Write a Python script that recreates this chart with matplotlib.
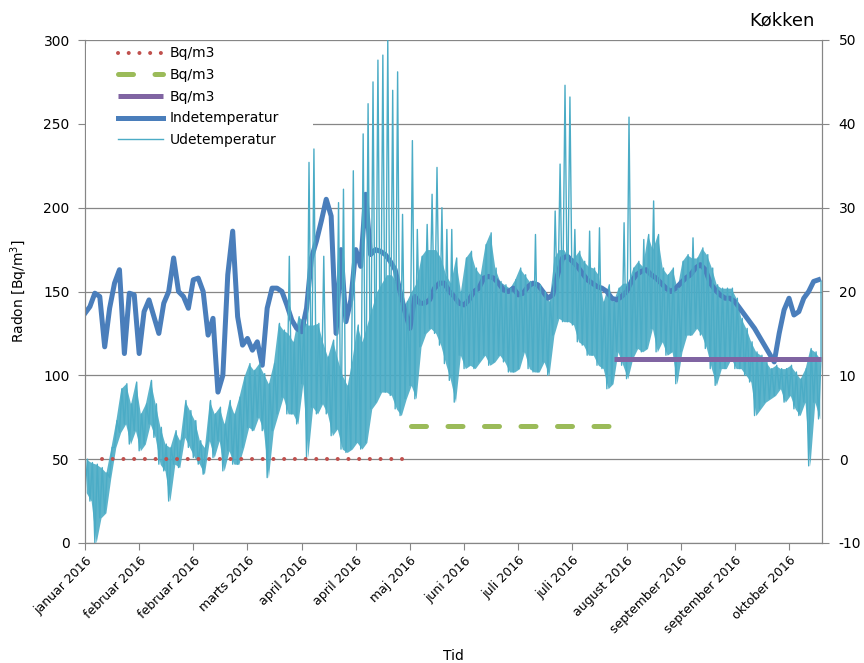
import matplotlib.pyplot as plt
import numpy as np
from matplotlib.patches import Rectangle

plt.rcParams["axes.unicode_minus"] = False

# Udetemperatur, min/maks af det tætte bånd pr. 2-dages interval [°C]
ude_lav = [
    -4.0, -5.0, -10.0, -7.0, -6.4, -2.2, 1.4, 3.2, 4.2, 1.8,
    3.4, 1.0, 1.8, 4.2, 2.6, -0.6, -1.4, -5.0, -0.6, -1.0,
    2.6, 1.4, 0.2, -0.6, -1.8, 2.2, 0.2, 2.2, -1.4, 1.0,
    -0.6, -0.6, 1.4, 3.8, 3.4, 5.0, 3.4, -2.2, 3.4, 5.4,
    7.4, 5.4, 5.4, 4.2, 9.0, 0.2, 6.2, 5.4, 6.6, 5.4,
    2.8, 3.6, 1.2, 0.8, 1.2, 2.0, 1.2, 2.0, 6.0, 6.8,
    8.0, 8.0, 7.6, 6.0, 5.2, 7.2, 8.8, 7.2, 13.4, 15.0,
    15.6, 15.0, 13.6, 11.4, 9.4, 6.8, 12.4, 10.8, 11.2, 10.8,
    11.6, 12.4, 11.2, 11.6, 12.4, 11.6, 10.4, 10.4, 10.8, 12.8,
    10.8, 10.4, 10.4, 11.6, 10.0, 14.8, 16.8, 16.4, 16.4, 16.0,
    14.0, 13.6, 12.4, 12.4, 11.2, 10.8, 8.4, 9.0, 12.8, 11.2,
    9.6, 12.0, 13.2, 12.8, 13.2, 15.6, 12.8, 14.0, 12.4, 12.8,
    9.0, 12.8, 14.8, 14.8, 15.6, 14.8, 13.2, 10.8, 8.8, 10.8,
    10.8, 12.0, 10.8, 10.8, 10.0, 9.2, 5.2, 6.0, 6.8, 7.2,
    7.6, 8.4, 6.8, 7.6, 6.0, 5.2, 6.8, -0.8, 6.8, 4.8,
]
ude_hoej = [
    0.0, -0.4, -0.6, -1.0, -1.6, 1.4, 4.6, 8.4, 9.0, 6.6,
    9.2, 5.4, 6.6, 9.4, 6.6, 3.8, 1.8, 1.4, 3.4, 2.2,
    7.0, 5.8, 4.6, 2.2, 1.4, 7.0, 5.4, 6.2, 4.2, 7.0,
    5.4, 7.4, 9.8, 11.4, 10.6, 11.4, 10.2, 9.0, 11.4, 16.2,
    15.4, 15.0, 14.0, 17.0, 16.6, 16.0, 16.0, 16.2, 14.0, 12.2,
    14.2, 12.0, 10.0, 8.8, 12.0, 16.0, 14.0, 16.0, 18.0, 20.0,
    21.0, 22.0, 22.0, 21.0, 18.0, 18.8, 20.0, 21.0, 24.2, 25.0,
    25.0, 25.0, 24.0, 22.0, 21.0, 24.0, 20.0, 24.0, 24.8, 22.8,
    22.0, 25.6, 27.0, 22.8, 21.2, 20.8, 20.4, 21.4, 22.8, 22.0,
    21.2, 21.0, 20.8, 20.0, 18.8, 24.0, 25.0, 25.0, 24.0, 24.0,
    24.8, 23.6, 23.0, 22.8, 22.0, 18.8, 20.8, 18.8, 20.4, 21.0,
    21.0, 22.8, 23.6, 23.0, 26.8, 25.0, 26.8, 22.8, 22.0, 22.8,
    20.4, 23.6, 24.4, 24.0, 24.0, 25.2, 24.4, 22.8, 20.8, 20.4,
    20.4, 20.4, 19.2, 16.8, 15.6, 14.0, 12.8, 12.4, 11.6, 10.8,
    11.2, 10.8, 10.8, 11.2, 10.4, 9.6, 10.8, 13.2, 12.8, 12.0,
]
# enkelte høje spidser (sol på føleren): interval-nr. og temperatur
spids_nr = [41, 45, 46, 48, 51, 52, 54, 56, 57, 58, 59, 60, 61, 62, 63, 64, 66, 67,
            69, 70, 71, 72, 73, 74, 91, 95, 96, 97, 98, 99, 102, 104, 109, 110, 113, 115, 123]
spids_temp = [24.2, 35.4, 37.0, 24.2, 30.6, 32.2, 34.4, 38.8, 42.4, 45.0, 47.6, 48.2, 50.0, 44.0,
              46.2, 29.2, 38.0, 27.4, 28.0, 31.6, 34.8, 30.0, 27.4, 27.4, 26.8, 29.6, 35.2, 44.6,
              43.2, 27.4, 27.2, 27.6, 28.2, 40.8, 26.2, 30.8, 26.4]
ude_start = 18.0
ude_slut = 21.2

# Indetemperatur hver 2. dag [°C]
inde_temp = [
    17.4, 18.2, 19.8, 19.4, 13.4, 18.0, 21.0, 22.6, 12.6, 19.8,
    19.6, 12.6, 17.6, 19.0, 17.0, 15.0, 18.6, 20.0, 24.0, 20.0,
    19.4, 18.0, 21.4, 21.6, 20.0, 14.8, 16.8, 8.0, 10.0, 22.0,
    27.2, 17.0, 13.6, 14.4, 13.0, 14.0, 11.2, 18.0, 20.4, 20.4,
    20.0, 18.4, 16.6, 15.6, 15.2, 18.0, 24.0, 26.0, 28.4, 31.0,
    29.0, 15.0, 25.0, 16.4, 19.0, 25.0, 23.0, 31.6, 24.4, 25.0,
    24.8, 24.4, 23.6, 22.6, 20.0, 17.6, 15.6, 19.4, 18.6, 18.6,
    19.0, 20.4, 21.0, 21.0, 20.0, 19.4, 18.6, 18.4, 19.0, 20.0,
    20.4, 21.6, 21.8, 21.6, 21.0, 20.2, 20.0, 20.4, 19.6, 19.8,
    20.6, 21.0, 20.8, 20.0, 19.2, 19.6, 22.0, 24.0, 24.2, 23.6,
    23.0, 22.2, 21.4, 21.0, 20.6, 20.4, 20.0, 19.2, 19.0, 19.4,
    20.0, 21.2, 22.0, 22.4, 22.6, 22.0, 21.6, 21.0, 20.4, 20.0,
    20.4, 21.0, 21.6, 22.0, 22.8, 23.2, 22.6, 21.0, 20.2, 19.6,
    19.2, 19.2, 18.8, 18.0, 17.2, 16.4, 15.6, 14.6, 13.6, 12.6,
    11.6, 15.0, 17.8, 19.2, 17.2, 17.6, 19.2, 20.0, 21.2, 21.4,
]

# Radonmålinger (perioder i dage fra start)
radon_fra = [7, 132.5, 215]
radon_til = [130, 213, 299]
radon_niveau = [50, 70, 110]

dato_labels = [
    "januar 2016", "februar 2016", "februar 2016", "marts 2016",
    "april 2016", "april 2016", "maj 2016", "juni 2016", "juli 2016",
    "juli 2016", "august 2016", "september 2016", "september 2016",
    "oktober 2016",
]

GRAA = "#868686"
UDE_FARVE = "#4BACC6"

fig = plt.figure(figsize=(8.64, 6.63), dpi=100)
ax = fig.add_axes([85 / 864, 120 / 663, 737 / 864, 503 / 663])
ax2 = ax.twinx()
# radonserierne tegnes øverst, på en usynlig akse med samme skala som venstre akse
ax3 = ax.twinx()
ax3.set_axis_off()

# temperaturer på højre akse
n = len(inde_temp)
dage = np.arange(n) * 2
(inde_ln,) = ax2.plot(dage, inde_temp, color="#4A7EBB", lw=3.6, solid_joinstyle="round")

top = list(ude_hoej)
for nr, t in zip(spids_nr, spids_temp):
    top[nr] = t

ax2.fill_between(dage + 0.5, ude_lav, ude_hoej, color=UDE_FARVE, alpha=0.9, lw=0)
ux = [0]
uy = [ude_start]
for k in range(n):
    ux += [2 * k, 2 * k + 1]
    uy += [ude_lav[k], top[k]]
ux.append(299)
uy.append(ude_slut)
(ude_ln,) = ax2.plot(ux, uy, color=UDE_FARVE, lw=1.0)

# radon
stil = [
    dict(color="#C0504D", lw=2.9, linestyle=(0, (0.01, 2.65)), dash_capstyle="round"),
    dict(color="#9BBB59", lw=3.6, linestyle=(0, (3.0, 4.3)), dash_capstyle="round"),
    dict(color="#8064A2", lw=3.6, solid_capstyle="butt"),
]
radon_linjer = []
for fra, til, niv, s in zip(radon_fra, radon_til, radon_niveau, stil):
    (ln,) = ax3.plot([fra, til], [niv, niv], **s)
    radon_linjer.append(ln)

ax.set_xlim(0, 299.4)
ax.set_ylim(0, 300)
ax3.set_ylim(0, 300)
ax2.set_ylim(-10, 50)
ax.set_yticks(range(0, 301, 50))
ax2.set_yticks(range(-10, 51, 10))
ax.set_xticks(np.arange(len(dato_labels)) * 22)
ax.set_xticklabels(dato_labels, rotation=45, ha="right", rotation_mode="anchor", fontsize=9)

ax.yaxis.grid(True, color=GRAA, lw=0.9)
ax.set_axisbelow(True)
for a in (ax, ax2):
    a.spines["top"].set_visible(False)
    for side in ("left", "right", "bottom"):
        a.spines[side].set_color(GRAA)
    a.tick_params(axis="both", direction="out", length=5, color=GRAA, labelsize=10)
ax.tick_params(axis="y", pad=6)
ax2.tick_params(axis="y", pad=7)
ax.tick_params(axis="x", labelsize=9, pad=3)

ax.set_ylabel("Radon [Bq/m$^3$]", fontsize=10)
ax.yaxis.set_label_coords(-0.074, 0.5)
ax.set_xlabel("Tid", fontsize=10)
ax.xaxis.set_label_coords(0.5, -0.21)

fig.text(815 / 864, 1 - 20 / 663, "Køkken", ha="right", va="center", fontsize=13)

# hvid baggrund bag legend
ax3.add_patch(Rectangle((0.002, 0.781), 0.307, 0.212, transform=ax3.transAxes,
                        facecolor="white", edgecolor="none", zorder=1))
leg = ax3.legend(
    radon_linjer + [inde_ln, ude_ln],
    ["Bq/m3", "Bq/m3", "Bq/m3", "Indetemperatur", "Udetemperatur"],
    loc="upper left", bbox_to_anchor=(0.0275, 1.012), frameon=False,
    fontsize=10, handlelength=3.24, handletextpad=0.5, labelspacing=0.55,
)
leg.set_zorder(5)

fig.savefig("out.png", dpi=100)
